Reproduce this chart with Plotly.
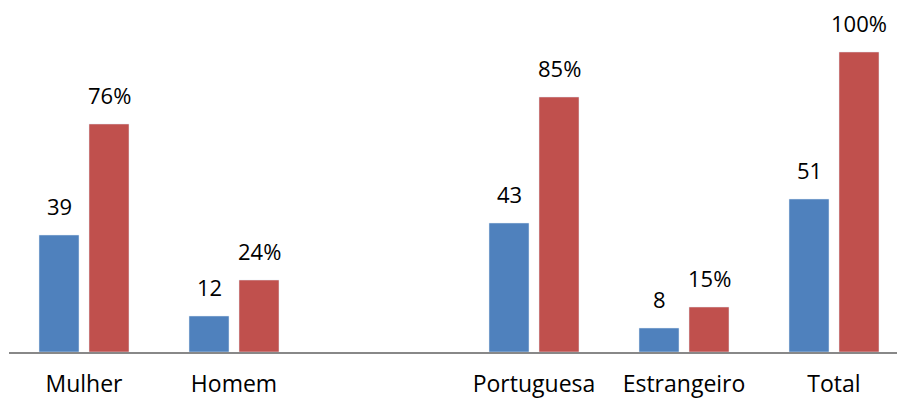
import plotly.graph_objects as go

# Category layout: a blank slot separates the gender group from the nationality group
positions = [0, 1, 3, 4, 5]
categories = ["Mulher", "Homem", "Portuguesa", "Estrangeiro", "Total"]
counts = [39, 12, 43, 8, 51]
percents = [76, 24, 85, 15, 100]

BLUE = "#4F81BD"
RED = "#C0504D"
FONT = "Open Sans"
BAR_W = 40 / 150          # bar width in category units
GAP = 10 / 150            # space between the two bars of a pair

fig = go.Figure()
fig.add_trace(go.Bar(x=positions, y=counts, marker_color=BLUE, name="N",
                     width=BAR_W, offset=-(BAR_W + GAP / 2)))
fig.add_trace(go.Bar(x=positions, y=percents, marker_color=RED, name="%",
                     width=BAR_W, offset=GAP / 2))

# Value labels above each bar
shift = (BAR_W + GAP) / 2 * 150
for x, c, p in zip(positions, counts, percents):
    fig.add_annotation(x=x, y=c, text=str(c), xshift=-shift, yshift=12,
                       yanchor="bottom", showarrow=False,
                       font=dict(family=FONT, size=22, color="black"))
    fig.add_annotation(x=x, y=p, text=f"{p}%", xshift=shift, yshift=12,
                       yanchor="bottom", showarrow=False,
                       font=dict(family=FONT, size=22, color="black"))

fig.update_layout(
    width=897, height=399,
    margin=dict(l=9, r=0, t=0, b=47),
    paper_bgcolor="white", plot_bgcolor="white",
    barmode="overlay",
    showlegend=False,
    font=dict(family=FONT, size=22, color="black"),
)
fig.update_xaxes(
    range=[-0.5, 5.42], tickvals=positions, ticktext=categories,
    showline=True, linecolor="#888888", linewidth=1.5,
    showgrid=False, zeroline=False, ticks="", ticklabelstandoff=11,
    automargin=False,
    tickfont=dict(family=FONT, size=23, color="black"),
)
fig.update_yaxes(range=[0, 117.33], visible=False, showgrid=False, zeroline=False)

fig.write_html("out.html")
